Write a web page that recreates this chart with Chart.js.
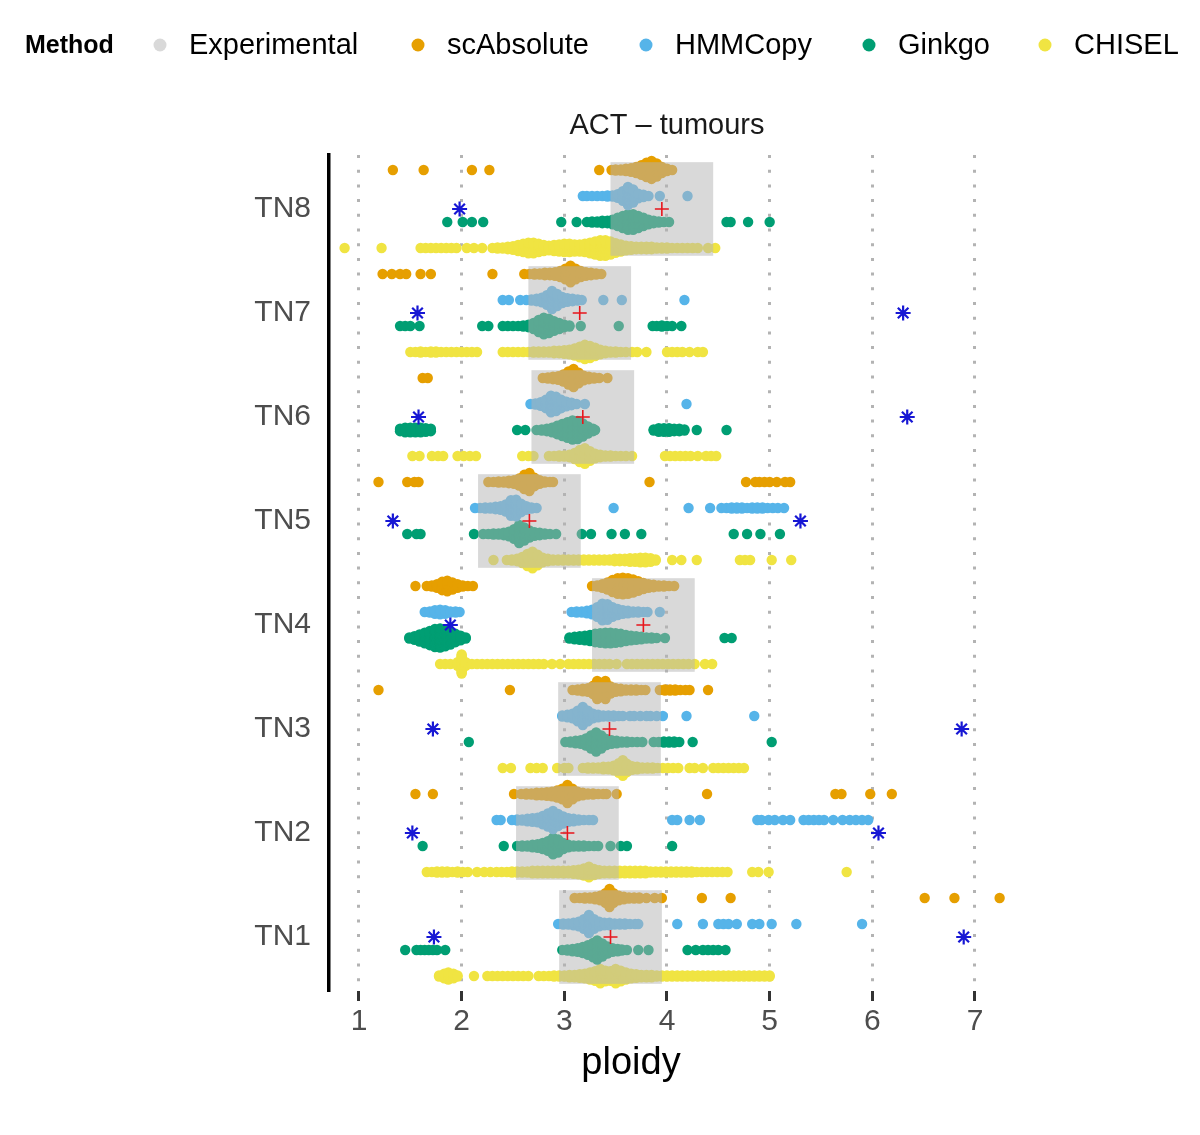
<!DOCTYPE html>
<html>
  <head>
    <meta charset="UTF-8" />
    <script src="https://cdn.jsdelivr.net/npm/chart.js"></script>
    <style>
      html, body { margin: 0; padding: 0; background: #fff; }
    </style>
  </head>
  <body>
    <canvas id="chart" width="1200" height="1135"></canvas>
    <script>
      // tumours, bottom to top
      const categories = ["TN1", "TN2", "TN3", "TN4", "TN5", "TN6", "TN7", "TN8"];
      const xTicks = [1, 2, 3, 4, 5, 6, 7];

      // experimental ploidy per tumour (red +, centre of grey box)
      const experimental = [3.45, 3.03, 3.44, 3.77, 2.66, 3.18, 3.15, 3.95];
      // blue asterisks (half / double of experimental, when shown)
      const halfDouble = [
        [1.73, 6.89], [1.52, 6.06], [1.72, 6.87], [1.89],
        [1.33, 5.3], [1.58, 6.34], [1.57, 6.3], [1.98],
      ];

      // per-cell ploidy, read as [ploidy, number of cells stacked there]
      const scAbsolute = [
        [[3.1,1],[3.15,1],[3.2,2],[3.25,2],[3.3,3],[3.35,5],[3.4,9],[3.44,16],[3.48,9],[3.53,5],[3.58,3],[3.63,2],[3.68,2],[3.73,2],[3.8,1],[3.88,1],[3.95,1],[4.34,1],[4.62,1],[6.51,1],[6.8,1],[7.24,1]],
        [[1.55,1],[1.72,1],[2.51,1],[2.58,1],[2.63,2],[2.68,2],[2.73,3],[2.78,3],[2.83,4],[2.88,5],[2.93,7],[2.98,10],[3.03,16],[3.08,10],[3.13,5],[3.18,3],[3.23,2],[3.28,2],[3.33,1],[3.38,1],[3.41,1],[3.51,1],[4.39,1],[5.64,1],[5.7,1],[5.98,1],[6.19,1]],
        [[1.19,1],[2.47,1],[3.08,1],[3.13,2],[3.18,3],[3.23,4],[3.28,8],[3.32,16],[3.36,12],[3.4,16],[3.45,7],[3.5,4],[3.55,3],[3.6,2],[3.65,2],[3.7,2],[3.75,1],[3.79,1],[3.93,1],[3.98,2],[4.03,2],[4.08,2],[4.13,1],[4.18,1],[4.22,1],[4.4,1]],
        [[1.55,1],[1.66,1],[1.71,2],[1.76,4],[1.81,8],[1.86,10],[1.91,7],[1.96,4],[2.01,2],[2.06,1],[2.11,1],[3.27,1],[3.32,2],[3.37,4],[3.42,7],[3.47,11],[3.52,14],[3.57,15],[3.62,14],[3.67,12],[3.72,9],[3.77,6],[3.82,4],[3.87,3],[3.92,2],[3.97,2],[4.02,1],[4.07,1]],
        [[1.19,1],[1.47,1],[1.54,1],[1.58,1],[2.26,1],[2.31,1],[2.36,2],[2.41,2],[2.46,3],[2.51,4],[2.56,7],[2.61,13],[2.66,16],[2.71,8],[2.76,4],[2.81,2],[2.86,1],[2.89,1],[3.83,1],[4.77,1],[4.86,1],[4.9,1],[4.95,1],[5.0,1],[5.07,1],[5.15,1],[5.2,1]],
        [[1.62,1],[1.67,1],[2.79,1],[2.84,2],[2.89,3],[2.94,4],[2.99,7],[3.04,12],[3.09,16],[3.14,10],[3.19,5],[3.24,3],[3.29,2],[3.34,1],[3.42,1]],
        [[1.23,1],[1.32,1],[1.4,1],[1.46,1],[1.6,1],[1.7,1],[2.3,1],[2.61,1],[2.66,1],[2.71,2],[2.76,2],[2.81,3],[2.86,3],[2.91,4],[2.96,6],[3.01,10],[3.06,15],[3.11,10],[3.16,6],[3.21,4],[3.26,3],[3.31,2],[3.36,1]],
        [[1.33,1],[1.63,1],[2.1,1],[2.27,1],[3.34,1],[3.46,1],[3.5,2],[3.55,2],[3.6,3],[3.65,4],[3.7,6],[3.75,9],[3.8,13],[3.85,16],[3.9,12],[3.95,6],[4.0,3],[4.05,1]],
      ];
      const hmmCopy = [
        [[2.94,1],[2.99,2],[3.04,2],[3.09,3],[3.14,5],[3.19,9],[3.24,16],[3.29,9],[3.34,5],[3.39,3],[3.44,3],[3.49,2],[3.54,2],[3.59,2],[3.64,1],[3.69,1],[3.72,1],[4.1,1],[4.35,1],[4.5,1],[4.55,1],[4.6,1],[4.68,1],[4.83,1],[4.9,1],[5.02,1],[5.26,1],[5.9,1]],
        [[2.34,1],[2.38,1],[2.49,1],[2.54,2],[2.59,2],[2.64,3],[2.69,4],[2.74,5],[2.79,8],[2.84,12],[2.89,16],[2.94,11],[2.99,7],[3.04,4],[3.09,3],[3.14,2],[3.19,1],[3.24,1],[3.28,1],[4.05,1],[4.1,1],[4.22,1],[4.32,1],[4.88,1],[4.92,1],[4.99,1],[5.05,1],[5.13,1],[5.2,1],[5.33,1],[5.38,1],[5.43,1],[5.48,1],[5.53,1],[5.62,1],[5.71,1],[5.78,1],[5.84,1],[5.9,1],[5.96,1]],
        [[2.98,2],[3.03,3],[3.08,5],[3.13,10],[3.18,16],[3.23,10],[3.28,5],[3.33,3],[3.38,2],[3.43,2],[3.48,2],[3.53,1],[3.57,1],[3.64,1],[3.68,1],[3.74,1],[3.8,1],[3.84,1],[3.9,1],[3.96,1],[4.19,1],[4.85,1]],
        [[1.64,1],[1.69,2],[1.74,4],[1.79,5],[1.84,4],[1.89,2],[1.94,2],[1.98,1],[3.07,1],[3.12,2],[3.17,2],[3.22,3],[3.27,5],[3.32,9],[3.37,15],[3.42,14],[3.47,9],[3.52,6],[3.57,4],[3.62,3],[3.67,2],[3.72,2],[3.77,1],[3.81,1],[3.93,1]],
        [[2.13,1],[2.18,1],[2.23,2],[2.28,2],[2.33,3],[2.38,4],[2.43,7],[2.48,14],[2.53,15],[2.58,8],[2.63,4],[2.68,2],[2.73,1],[3.48,1],[4.21,1],[4.42,1],[4.53,1],[4.58,1],[4.63,2],[4.68,2],[4.73,2],[4.78,1],[4.83,2],[4.88,2],[4.93,2],[4.98,1],[5.03,1],[5.08,1],[5.14,1]],
        [[2.67,1],[2.72,2],[2.77,4],[2.82,8],[2.87,15],[2.92,13],[2.97,8],[3.02,5],[3.07,3],[3.12,1],[3.2,1],[4.19,1]],
        [[2.4,1],[2.46,1],[2.57,1],[2.63,1],[2.68,2],[2.73,3],[2.78,5],[2.83,9],[2.88,16],[2.93,11],[2.98,6],[3.03,4],[3.08,3],[3.13,2],[3.17,1],[3.38,1],[3.56,1],[4.17,1]],
        [[3.18,1],[3.22,1],[3.27,1],[3.32,1],[3.37,1],[3.42,2],[3.47,2],[3.52,4],[3.57,9],[3.62,16],[3.67,12],[3.72,5],[3.77,3],[3.82,1],[3.93,1],[4.2,1]],
      ];
      const ginkgo = [
        [[1.45,1],[1.56,1],[1.6,1],[1.64,1],[1.68,1],[1.72,1],[1.76,1],[1.84,1],[2.98,1],[3.03,2],[3.08,3],[3.13,4],[3.18,6],[3.23,9],[3.28,13],[3.32,17],[3.37,12],[3.42,7],[3.47,4],[3.52,3],[3.56,2],[3.61,1],[3.72,1],[3.82,1],[4.2,1],[4.28,1],[4.35,1],[4.4,1],[4.45,1],[4.5,1],[4.57,1]],
        [[1.62,1],[2.41,1],[2.54,1],[2.59,2],[2.64,2],[2.69,3],[2.74,4],[2.79,6],[2.84,9],[2.89,15],[2.94,12],[2.99,6],[3.04,3],[3.09,2],[3.14,2],[3.19,2],[3.24,1],[3.29,1],[3.33,1],[3.45,1],[3.55,1],[3.61,1],[4.05,1]],
        [[2.07,1],[3.01,1],[3.06,2],[3.11,3],[3.16,4],[3.21,7],[3.26,12],[3.31,17],[3.36,12],[3.41,6],[3.46,4],[3.51,3],[3.56,2],[3.61,2],[3.66,1],[3.71,1],[3.76,1],[3.87,1],[3.92,1],[3.97,2],[4.02,2],[4.07,2],[4.12,1],[4.25,1],[5.02,1]],
        [[1.49,2],[1.54,4],[1.59,7],[1.64,10],[1.69,13],[1.74,16],[1.79,17],[1.84,15],[1.89,12],[1.94,8],[1.99,5],[2.04,2],[3.05,2],[3.1,3],[3.15,4],[3.2,5],[3.25,6],[3.3,8],[3.35,9],[3.4,10],[3.45,10],[3.5,9],[3.55,8],[3.6,6],[3.65,5],[3.7,4],[3.75,3],[3.8,2],[3.85,2],[3.9,1],[3.98,1],[4.56,1],[4.63,1]],
        [[1.47,1],[1.56,1],[1.6,1],[2.12,1],[2.21,1],[2.26,1],[2.31,2],[2.36,2],[2.41,3],[2.46,5],[2.51,9],[2.56,16],[2.61,12],[2.66,7],[2.71,4],[2.76,3],[2.81,2],[2.86,1],[2.92,1],[3.17,1],[3.26,1],[3.46,1],[3.59,1],[3.75,1],[4.65,1],[4.78,1],[4.91,1],[5.1,1]],
        [[1.4,3],[1.45,5],[1.5,5],[1.55,5],[1.6,5],[1.65,4],[1.7,3],[2.54,1],[2.62,1],[2.73,1],[2.78,2],[2.83,3],[2.88,5],[2.93,8],[2.98,11],[3.03,14],[3.08,17],[3.13,16],[3.18,12],[3.23,7],[3.28,3],[3.3,1],[3.87,2],[3.92,4],[3.97,4],[4.02,4],[4.07,3],[4.12,3],[4.17,2],[4.29,1],[4.58,1]],
        [[1.4,1],[1.45,1],[1.5,1],[1.59,1],[2.2,1],[2.26,1],[2.4,1],[2.45,1],[2.5,1],[2.55,1],[2.6,2],[2.65,3],[2.7,6],[2.75,11],[2.8,15],[2.85,13],[2.9,9],[2.95,6],[3.0,3],[3.05,2],[3.16,1],[3.53,1],[3.86,1],[3.9,1],[3.95,2],[4.0,1],[4.05,1],[4.14,1]],
        [[1.86,1],[2.01,1],[2.1,1],[2.21,1],[2.97,1],[3.12,1],[3.22,1],[3.27,2],[3.32,2],[3.37,3],[3.42,3],[3.47,5],[3.52,8],[3.57,11],[3.62,14],[3.67,14],[3.72,11],[3.77,8],[3.82,5],[3.87,3],[3.92,2],[3.97,1],[4.02,1],[4.58,1],[4.62,1],[4.79,1],[5.0,1]],
      ];
      const chisel = [
        [[1.78,2],[1.83,5],[1.87,7],[1.92,5],[1.96,2],[2.12,1],[2.25,1],[2.3,1],[2.35,1],[2.4,1],[2.45,1],[2.5,1],[2.55,1],[2.6,1],[2.65,1],[2.75,1],[2.8,1],[2.85,1],[2.9,2],[2.95,2],[3.0,2],[3.05,3],[3.1,3],[3.15,4],[3.2,5],[3.25,7],[3.3,9],[3.35,13],[3.4,10],[3.45,9],[3.5,13],[3.55,10],[3.6,7],[3.65,5],[3.7,4],[3.75,3],[3.8,3],[3.85,3],[3.9,2],[3.95,2],[4.0,2],[4.05,2],[4.1,2],[4.15,2],[4.2,2],[4.25,2],[4.3,2],[4.35,2],[4.4,2],[4.45,2],[4.5,2],[4.55,2],[4.6,2],[4.65,2],[4.7,2],[4.75,2],[4.8,2],[4.85,2],[4.9,2],[4.95,2],[5.0,2]],
        [[1.66,1],[1.71,1],[1.76,2],[1.81,2],[1.86,2],[1.91,1],[1.96,2],[2.01,1],[2.06,1],[2.15,1],[2.22,1],[2.28,1],[2.34,1],[2.39,1],[2.44,1],[2.49,2],[2.54,2],[2.59,2],[2.64,2],[2.69,3],[2.74,3],[2.79,3],[2.84,3],[2.89,3],[2.94,3],[2.99,3],[3.04,3],[3.09,4],[3.14,5],[3.19,7],[3.24,10],[3.29,6],[3.34,4],[3.39,3],[3.44,3],[3.49,3],[3.54,3],[3.59,3],[3.64,3],[3.69,3],[3.74,3],[3.79,3],[3.84,2],[3.89,2],[3.94,2],[3.99,2],[4.04,2],[4.09,2],[4.14,2],[4.19,2],[4.24,2],[4.29,1],[4.34,1],[4.39,1],[4.44,1],[4.49,1],[4.54,1],[4.59,1],[4.83,1],[4.89,1],[4.99,1],[5.75,1]],
        [[2.4,1],[2.48,1],[2.67,1],[2.73,1],[2.79,1],[2.93,1],[3.0,1],[3.04,1],[3.18,1],[3.23,2],[3.28,2],[3.33,2],[3.38,3],[3.43,3],[3.48,5],[3.53,9],[3.57,14],[3.61,8],[3.66,4],[3.71,3],[3.76,2],[3.81,2],[3.86,2],[3.91,1],[3.96,1],[4.01,1],[4.06,1],[4.11,1],[4.22,1],[4.27,1],[4.35,1],[4.45,1],[4.5,1],[4.55,1],[4.6,1],[4.65,1],[4.7,1],[4.75,1]],
        [[1.79,1],[1.84,1],[1.89,1],[1.96,4],[2.0,17],[2.04,4],[2.1,1],[2.15,1],[2.2,1],[2.25,1],[2.3,1],[2.35,1],[2.4,1],[2.45,1],[2.5,1],[2.55,1],[2.6,1],[2.65,1],[2.7,1],[2.75,1],[2.8,1],[2.88,1],[2.96,1],[3.04,1],[3.09,1],[3.14,1],[3.19,1],[3.24,1],[3.29,1],[3.34,1],[3.39,1],[3.44,1],[3.51,1],[3.61,1],[3.66,1],[3.71,1],[3.76,1],[3.81,1],[3.86,1],[3.91,1],[3.96,1],[4.01,1],[4.06,1],[4.11,1],[4.16,1],[4.21,1],[4.27,1],[4.37,1],[4.44,1]],
        [[2.31,1],[2.44,1],[2.49,2],[2.54,3],[2.59,6],[2.64,11],[2.69,15],[2.74,10],[2.79,5],[2.84,3],[2.89,2],[2.94,2],[2.99,2],[3.04,2],[3.09,2],[3.14,2],[3.19,2],[3.24,2],[3.29,2],[3.34,2],[3.39,2],[3.44,2],[3.49,3],[3.54,3],[3.59,3],[3.64,4],[3.69,4],[3.74,5],[3.79,5],[3.84,4],[3.89,2],[4.05,1],[4.14,1],[4.29,1],[4.71,1],[4.76,1],[4.81,1],[5.02,1],[5.21,1]],
        [[1.52,1],[1.59,1],[1.71,1],[1.77,1],[1.82,1],[1.96,1],[2.02,1],[2.08,1],[2.14,1],[2.59,1],[2.65,1],[2.7,1],[2.85,1],[2.9,1],[2.95,2],[3.0,2],[3.05,3],[3.1,6],[3.15,11],[3.2,14],[3.25,9],[3.3,5],[3.35,3],[3.4,2],[3.45,2],[3.5,1],[3.55,1],[3.6,1],[3.66,1],[3.98,1],[4.03,1],[4.08,1],[4.13,1],[4.18,1],[4.23,1],[4.3,1],[4.38,1],[4.43,1],[4.48,1]],
        [[1.5,1],[1.55,1],[1.6,2],[1.65,1],[1.7,2],[1.75,2],[1.8,1],[1.85,1],[1.9,1],[1.95,1],[2.0,1],[2.05,1],[2.1,1],[2.15,1],[2.4,1],[2.45,1],[2.5,1],[2.55,1],[2.6,1],[2.65,1],[2.7,2],[2.75,2],[2.8,2],[2.85,2],[2.9,3],[2.95,3],[3.0,4],[3.05,5],[3.1,7],[3.15,10],[3.2,13],[3.25,11],[3.3,8],[3.35,5],[3.4,3],[3.45,2],[3.5,2],[3.55,1],[3.6,1],[3.66,1],[3.71,1],[3.8,1],[4.0,1],[4.05,1],[4.1,1],[4.15,1],[4.22,1],[4.3,1],[4.35,1]],
        [[0.86,1],[1.22,1],[1.6,1],[1.65,1],[1.7,1],[1.75,1],[1.8,1],[1.85,1],[1.9,1],[1.95,1],[2.05,1],[2.12,1],[2.2,1],[2.3,1],[2.35,2],[2.4,2],[2.45,3],[2.5,4],[2.55,6],[2.6,8],[2.65,10],[2.7,10],[2.75,8],[2.8,6],[2.85,5],[2.9,6],[2.95,7],[3.0,8],[3.05,8],[3.1,7],[3.15,7],[3.2,8],[3.25,10],[3.3,12],[3.35,14],[3.4,14],[3.45,12],[3.5,9],[3.55,7],[3.6,5],[3.65,4],[3.7,3],[3.75,3],[3.8,3],[3.85,3],[3.9,2],[3.95,2],[4.0,2],[4.05,1],[4.1,1],[4.15,1],[4.2,1],[4.25,1],[4.3,1],[4.4,1],[4.47,1]],
      ];

      const methodNames = ["Experimental", "scAbsolute", "HMMCopy", "Ginkgo", "CHISEL"];
      const methodColors = ["#d9d9d9", "#E69F00", "#56B4E9", "#009E73", "#F0E442"];

      const FONT = '"Liberation Sans", Arial, sans-serif';
      const STACK = 0.0115; // vertical step between stacked cells, in category units

      // beeswarm: stack cells of the same ploidy vertically around the row line
      function swarm(rows, rowOffset) {
        const pts = [];
        rows.forEach((cells, i) => {
          cells.forEach(([v, n]) => {
            for (let k = 0; k < n; k++) {
              pts.push({ x: v, y: i + 1 + rowOffset + (k - (n - 1) / 2) * STACK });
            }
          });
        });
        return pts;
      }

      const swarmSet = (label, rows, color, rowOffset) => ({
        label: label,
        data: swarm(rows, rowOffset),
        backgroundColor: color,
        borderWidth: 0,
        pointRadius: 5.2,
        pointHoverRadius: 5.2,
      });

      const markers = [
        {
          label: "experimental",
          data: experimental.map((v, i) => ({ x: v, y: i + 1 })),
          pointStyle: "cross",
          pointRadius: 7,
          borderColor: "#e8161c",
          borderWidth: 1.6,
        },
        {
          label: "half/double",
          data: halfDouble.flatMap((vals, i) => vals.map((v) => ({ x: v, y: i + 1 }))),
          pointStyle: "star",
          pointRadius: 7.5,
          borderColor: "#1717d4",
          borderWidth: 2.2,
        },
      ];

      // grey experimental box, drawn over the swarms but under the markers
      const boxPlugin = {
        id: "expBoxes",
        afterDatasetDraw(chart, args) {
          if (args.index !== 2) return;
          const { ctx, scales } = chart;
          ctx.save();
          ctx.fillStyle = "rgba(180,180,180,0.5)";
          experimental.forEach((v, i) => {
            const x0 = scales.x.getPixelForValue(v - 0.5);
            const x1 = scales.x.getPixelForValue(v + 0.5);
            const y0 = scales.y.getPixelForValue(i + 1.45);
            const y1 = scales.y.getPixelForValue(i + 0.55);
            ctx.fillRect(x0, y0, x1 - x0, y1 - y0);
          });
          ctx.restore();
        },
      };

      const legendDotX = [160, 418, 646, 869, 1045];
      const textPlugin = {
        id: "texts",
        afterDraw(chart) {
          const ctx = chart.ctx;
          ctx.save();
          ctx.textBaseline = "middle";
          ctx.textAlign = "left";
          ctx.fillStyle = "#000";
          ctx.font = "bold 25px " + FONT;
          ctx.fillText("Method", 25, 46);
          ctx.font = "29px " + FONT;
          methodNames.forEach((name, i) => {
            ctx.fillStyle = methodColors[i];
            ctx.beginPath();
            ctx.arc(legendDotX[i], 45, 6.5, 0, 2 * Math.PI);
            ctx.fill();
            ctx.fillStyle = "#000";
            ctx.fillText(name, legendDotX[i] + 29, 46);
          });
          ctx.textAlign = "center";
          ctx.fillStyle = "#1a1a1a";
          ctx.font = "29px " + FONT;
          ctx.fillText("ACT \u2013 tumours", 667, 126);
          ctx.fillStyle = "#000";
          ctx.font = "38px " + FONT;
          ctx.fillText("ploidy", 631, 1064);
          ctx.restore();
        },
      };

      new Chart(document.getElementById("chart"), {
        type: "scatter",
        data: {
          datasets: [
            ...markers,
            swarmSet("scAbsolute", scAbsolute, methodColors[1], 0.375),
            swarmSet("HMMCopy", hmmCopy, methodColors[2], 0.125),
            swarmSet("Ginkgo", ginkgo, methodColors[3], -0.125),
            swarmSet("CHISEL", chisel, methodColors[4], -0.375),
          ],
        },
        options: {
          responsive: false,
          animation: false,
          events: [],
          layout: { padding: { left: 0, right: 194, top: 155, bottom: 0 } },
          plugins: {
            legend: { display: false },
            tooltip: { enabled: false },
          },
          scales: {
            x: {
              type: "linear",
              min: 0.708,
              max: 7.302,
              afterBuildTicks: (s) => { s.ticks = xTicks.map((v) => ({ value: v })); },
              afterFit: (s) => { s.height = 144; },
              grid: {
                color: "#b3b3b3",
                lineWidth: 3,
                drawTicks: true,
                tickLength: 10,
                tickColor: "#333",
                tickWidth: 3,
              },
              border: { display: false, dash: [3, 11.7] },
              ticks: {
                padding: 3,
                color: "#4d4d4d",
                font: { family: FONT, size: 30 },
                maxRotation: 0,
              },
            },
            y: {
              type: "linear",
              min: 0.481,
              max: 8.519,
              afterBuildTicks: (s) => { s.ticks = categories.map((c, i) => ({ value: i + 1 })); },
              afterFit: (s) => { s.width = 329; },
              grid: { display: false, drawTicks: false },
              border: { display: true, color: "#000", width: 3.5 },
              ticks: {
                padding: 18,
                color: "#4d4d4d",
                font: { family: FONT, size: 30 },
                callback: (v) => categories[v - 1],
              },
            },
          },
        },
        plugins: [boxPlugin, textPlugin],
      });
    </script>
  </body>
</html>
